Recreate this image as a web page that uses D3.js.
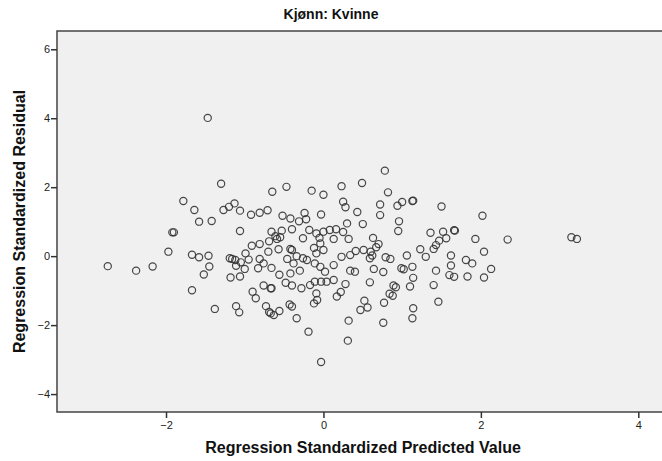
<!DOCTYPE html>
<html>
<head>
<meta charset="utf-8">
<script src="https://cdn.jsdelivr.net/npm/d3@7"></script>
<style>
  html, body { margin: 0; padding: 0; background: #ffffff; }
  svg { display: block; }
</style>
</head>
<body>
<svg id="chart" width="662" height="461"></svg>
<script>
// ---- Data ----
const chartTitle = "Kjønn: Kvinne";
const xAxisTitle = "Regression Standardized Predicted Value";
const yAxisTitle = "Regression Standardized Residual";
const xTicks = [-2, 0, 2, 4];
const yTicks = [-4, -2, 0, 2, 4, 6];

// Standardized predicted values
const predicted = [
  -2.74, -1.47,
  -1.30, -0.47, -0.65, -1.78, -1.13, -1.20, -1.27, -1.64, -1.06, -0.71, -0.81, -0.92, -0.52, -0.42,
  -0.31, -1.58, -1.42, -0.40, -0.66, -0.53, -1.06, -1.92, -1.90, -0.61, -0.55, -0.59, -0.81, -0.91,
  -0.69, -0.57, -0.42, -0.40,
  -1.97, -1.67, -1.58, -1.46, -1.45, -2.17, -2.38, -0.99, -1.19, -1.16, -1.12, -1.05, -0.95, -0.81,
  -0.70, -0.34, -0.46, -0.38, -0.66, -0.83, -1.00, -1.11, -0.76, -0.56, -0.42, -0.30, -1.52, -1.18,
  -1.06, -1.67, -1.38, -1.11, -1.07, -0.90, -0.86, -0.76, -0.67, -0.66, -0.48, -0.40, -0.73, -0.69,
  -0.67, -0.63, -0.56, -0.43, -0.40, -0.34,
  0.78, 0.49, 0.23, -0.15, 0.00, 0.82, 0.25, 0.28, 1.00, 0.94, 1.13, 1.14, 0.72, 0.43, 0.72, 1.50,
  2.02, -0.24, -0.22, -0.03, 0.96, 0.30, 0.50, 0.95, -0.18, -0.09, 0.00, 0.08, 0.16, 0.25, -0.05,
  0.13, 0.32, 0.63, -0.26, 1.36, 1.52, 1.66, 1.67, 1.56, 1.47, 1.43, 1.40, 1.93, 0.70, 0.67, 1.23,
  -0.04, -0.12, 2.34, 3.15, 3.22,
  2.04, 0.60, 1.30, 1.06, 1.62, 1.81, 1.89, 2.13, 1.62, 1.43, 1.13, 0.99, 1.02, 0.79, 0.85, 0.62,
  0.59, 0.51, 0.41, 0.34, 0.23, 0.13, -0.09, 0.00, -0.26, -0.21, -0.11, 0.34, 0.40, 0.64, 0.76,
  1.60, 1.66, 1.83, 2.04, 1.40, 1.46, 1.14, 1.10, 0.59, 0.89, 0.92, 0.88, 0.84, 0.77, 0.52, 0.56,
  0.47, 0.28, 0.22, 0.17, 0.13, 0.32, 0.76, 1.14, 1.13, 0.31, -0.19, -0.03, -0.09, -0.08, -0.12,
  -0.04, 0.02, -0.11, -0.17, -0.28, -0.03, 0.04
];

// Standardized residuals
const residual = [
  -0.29, 4.01,
  2.10, 2.01, 1.87, 1.60, 1.53, 1.43, 1.34, 1.34, 1.32, 1.33, 1.26, 1.20, 1.17, 1.09,
  1.01, 1.00, 1.02, 0.78, 0.71, 0.74, 0.73, 0.69, 0.69, 0.58, 0.55, 0.50, 0.35, 0.30,
  0.43, 0.20, 0.21, 0.18,
  0.13, 0.04, -0.03, 0.01, -0.30, -0.30, -0.42, 0.08, -0.06, -0.08, -0.11, -0.18, -0.10, -0.08,
  0.13, 0.00, -0.08, -0.21, -0.34, -0.35, -0.37, -0.28, -0.21, -0.54, -0.50, -0.42, -0.53, -0.62,
  -0.59, -0.99, -1.53, -1.45, -1.63, -1.03, -1.22, -0.85, -0.93, -0.93, -0.77, -0.85, -1.45, -1.62,
  -1.66, -1.71, -1.59, -1.40, -1.46, -1.80,
  2.48, 2.12, 2.03, 1.90, 1.78, 1.85, 1.58, 1.42, 1.57, 1.46, 1.60, 1.61, 1.50, 1.28, 1.19, 1.44,
  1.17, 1.25, 1.07, 1.21, 1.01, 0.95, 0.93, 0.73, 0.76, 0.66, 0.71, 0.76, 0.78, 0.70, 0.53,
  0.50, 0.50, 0.53, 0.52, 0.68, 0.71, 0.75, 0.74, 0.52, 0.45, 0.32, 0.21, 0.50, 0.35, 0.26, 0.20,
  0.37, 0.24, 0.48, 0.55, 0.50,
  0.13, 0.13, -0.02, 0.02, 0.02, -0.11, -0.21, -0.37, -0.27, -0.42, -0.31, -0.35, -0.38, -0.03, -0.08, 0.02,
  -0.06, 0.18, 0.15, 0.03, -0.02, -0.26, 0.08, 0.18, -0.06, -0.11, -0.21, -0.42, -0.45, -0.37, -0.46,
  -0.55, -0.60, -0.59, -0.62, -0.84, -1.32, -0.63, -0.88, -0.76, -0.85, -0.90, -1.15, -1.09, -1.35, -1.29, -1.49,
  -1.56, -0.81, -1.04, -1.17, -0.69, -1.87, -1.93, -1.51, -1.80, -2.45, -2.19, -3.07, -1.08, -1.27, -1.37,
  -0.31, -0.45, -0.74, -0.84, -0.93, -0.74, -0.74
];

// ---- Layout ----
const W = 662, H = 461;
const plot = { left: 57, top: 31, right: 669, bottom: 412 };

const svg = d3.select("#chart");

const x = d3.scaleLinear().domain([-3.385, 4.39]).range([plot.left, plot.right]);
const y = d3.scaleLinear().domain([-4.52, 6.53]).range([plot.bottom, plot.top]);

// plot background
svg.append("rect")
  .attr("x", plot.left).attr("y", plot.top)
  .attr("width", plot.right - plot.left).attr("height", plot.bottom - plot.top)
  .attr("fill", "#f0f0f0");

// frame
svg.append("path")
  .attr("d", `M${plot.right},${plot.top}H${plot.left}V${plot.bottom}H${plot.right}`)
  .attr("fill", "none").attr("stroke", "#444").attr("stroke-width", 1.5);

const tickFont = "'Liberation Sans', Arial, sans-serif";

// y axis
const yAxis = d3.axisLeft(y).tickValues(yTicks).tickSize(6).tickPadding(1).tickFormat(d3.format("d"));
const gy = svg.append("g").attr("transform", `translate(${plot.left},0)`).call(yAxis);
gy.select(".domain").remove();
gy.selectAll(".tick line").attr("stroke", "#333").attr("stroke-width", 1.5);
gy.selectAll(".tick text").attr("font-family", tickFont).attr("font-size", 11).attr("fill", "#222");

// x axis
const xAxis = d3.axisBottom(x).tickValues(xTicks).tickSize(6).tickPadding(3).tickFormat(d3.format("d"));
const gx = svg.append("g").attr("transform", `translate(0,${plot.bottom})`).call(xAxis);
gx.select(".domain").remove();
gx.selectAll(".tick line").attr("stroke", "#333").attr("stroke-width", 1.5);
gx.selectAll(".tick text").attr("font-family", tickFont).attr("font-size", 11).attr("fill", "#222");

// points
const pts = predicted.map((v, i) => ({ x: v, y: residual[i] }));
svg.append("g")
  .selectAll("circle")
  .data(pts)
  .join("circle")
  .attr("cx", d => x(d.x))
  .attr("cy", d => y(d.y))
  .attr("r", 3.6)
  .attr("fill", "none")
  .attr("stroke", "#333")
  .attr("stroke-opacity", 0.9)
  .attr("stroke-width", 1.2);

// titles
const titleFont = "'Liberation Sans', Arial, sans-serif";
svg.append("text")
  .attr("x", W / 2).attr("y", 19)
  .attr("text-anchor", "middle")
  .attr("font-family", titleFont).attr("font-weight", "bold").attr("font-size", 14)
  .attr("fill", "#111")
  .text(chartTitle);

svg.append("text")
  .attr("x", (plot.left + plot.right) / 2).attr("y", 453)
  .attr("text-anchor", "middle")
  .attr("font-family", titleFont).attr("font-weight", "bold").attr("font-size", 16)
  .attr("fill", "#111")
  .text(xAxisTitle);

svg.append("text")
  .attr("transform", `translate(25,${(plot.top + plot.bottom) / 2}) rotate(-90)`)
  .attr("text-anchor", "middle")
  .attr("font-family", titleFont).attr("font-weight", "bold").attr("font-size", 16)
  .attr("fill", "#111")
  .text(yAxisTitle);
</script>
</body>
</html>
